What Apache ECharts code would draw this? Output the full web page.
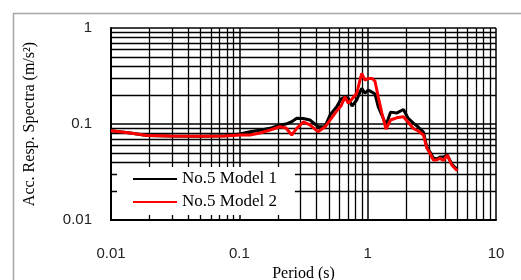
<!DOCTYPE html>
<html>
<head>
<meta charset="utf-8">
<script src="https://cdn.jsdelivr.net/npm/echarts@6/dist/echarts.min.js"></script>
<style>
    body { margin: 0; background: #fff; }
    #chart { width: 521px; height: 280px; }
</style>
</head>
<body>
<div id="chart"></div>
<script>
    // 周期 (s)
    var periods = [0.01, 0.0141, 0.0191, 0.0288, 0.0494, 0.0773, 0.101, 0.121, 0.145, 0.173,
        0.207, 0.231, 0.256, 0.280, 0.315, 0.355, 0.410, 0.465, 0.509, 0.574,
        0.620, 0.665, 0.707, 0.755, 0.822, 0.871, 0.899, 0.953, 1.01, 1.08,
        1.14, 1.21, 1.29, 1.39, 1.51, 1.68, 1.90, 2.06, 2.27, 2.48,
        2.72, 2.89, 3.06, 3.25, 3.45, 3.66, 3.88, 4.18, 4.52, 4.99]
    // No.5 Model 1
    var model1 = [0.0851, 0.0806, 0.0759, 0.0750, 0.0745, 0.0755, 0.0787, 0.0832, 0.0863, 0.0902,
        0.0977, 0.0999, 0.1057, 0.1146, 0.1143, 0.110, 0.0937, 0.0937, 0.124, 0.151,
        0.182, 0.192, 0.185, 0.154, 0.178, 0.215, 0.235, 0.209, 0.226, 0.215,
        0.205, 0.151, 0.124, 0.0977, 0.133, 0.130, 0.1416, 0.1155, 0.102, 0.0931,
        0.0825, 0.0575, 0.051, 0.0442, 0.0432, 0.0453, 0.0453, 0.0475, 0.0383, 0.0336]
    // No.5 Model 2
    var model2 = [0.0851, 0.0806, 0.0759, 0.0750, 0.0745, 0.0750, 0.0768, 0.0768, 0.0806, 0.0863,
        0.0937, 0.0908, 0.0768, 0.0902, 0.105, 0.0977, 0.0832, 0.093, 0.110, 0.137,
        0.154, 0.192, 0.164, 0.182, 0.209, 0.287, 0.336, 0.287, 0.298, 0.298,
        0.280, 0.191, 0.130, 0.0887, 0.110, 0.116, 0.119, 0.105, 0.0898, 0.0845,
        0.0768, 0.0562, 0.0495, 0.0422, 0.0422, 0.044, 0.0415, 0.0475, 0.0374, 0.0326]
    // 对数网格的次网格线
    var minorX = [0.02, 0.03, 0.04, 0.05, 0.06, 0.07, 0.08, 0.09,
        0.2, 0.3, 0.4, 0.5, 0.6, 0.7, 0.8, 0.9,
        2, 3, 4, 5, 6, 7, 8, 9]
    var minorY = [0.02, 0.03, 0.04, 0.05, 0.06, 0.07, 0.08, 0.09,
        0.2, 0.3, 0.4, 0.5, 0.6, 0.7, 0.8, 0.9]

    function pairs(xs, ys) {
        var out = []
        for (var i = 0; i < xs.length; i++) out.push([xs[i], ys[i]])
        return out
    }

    var gridLines = []
    minorX.forEach(function (v) { gridLines.push({ xAxis: v }) })
    minorY.forEach(function (v) { gridLines.push({ yAxis: v }) })

    var serif = '"Liberation Serif", "Times New Roman", serif'
    var sans = '"Liberation Sans", Arial, sans-serif'

    var chart = echarts.init(document.getElementById('chart'))
    chart.setOption({
        animation: false,
        graphic: [{
            type: 'rect',
            shape: { x: 13.5, y: 13.5, width: 520, height: 300 },
            style: { fill: 'none', stroke: '#a6a6a6', lineWidth: 1.5 },
            silent: true
        }],
        grid: { left: 111, right: 25, top: 28, bottom: 60, outerBoundsMode: 'none' },
        legend: {
            orient: 'vertical',
            left: 117,
            top: 167,
            z: 10,
            padding: [2, 18, 3, 16],
            backgroundColor: '#fff',
            itemWidth: 44,
            itemHeight: 2,
            itemGap: 3,
            icon: 'rect',
            data: ['No.5 Model 1', 'No.5 Model 2'],
            textStyle: { fontFamily: serif, fontSize: 17, color: '#000', lineHeight: 20 }
        },
        xAxis: {
            type: 'log',
            logBase: 10,
            min: 0.01,
            max: 10,
            name: 'Period (s)',
            nameLocation: 'middle',
            nameGap: 43,
            nameTextStyle: { fontFamily: serif, fontSize: 16, color: '#000' },
            axisLine: { lineStyle: { color: '#000', width: 2 } },
            axisTick: { show: false },
            axisLabel: { margin: 26, fontFamily: sans, fontSize: 15, color: '#222' },
            splitLine: { show: true, lineStyle: { color: '#000', width: 1.5 } }
        },
        yAxis: {
            type: 'log',
            logBase: 10,
            min: 0.01,
            max: 1,
            name: 'Acc. Resp. Spectra (m/s²)',
            nameLocation: 'middle',
            nameGap: 73,
            nameTextStyle: { fontFamily: serif, fontSize: 16, color: '#000' },
            axisLine: { lineStyle: { color: '#000', width: 2 } },
            axisTick: { show: false },
            axisLabel: { margin: 19, fontFamily: sans, fontSize: 15, color: '#222' },
            splitLine: { show: true, lineStyle: { color: '#000', width: 1.5 } }
        },
        series: [
            {
                name: 'grid',
                type: 'line',
                z: 1,
                data: [],
                markLine: {
                    silent: true,
                    z: 1,
                    symbol: 'none',
                    label: { show: false },
                    lineStyle: { color: '#000', width: 1.3, type: 'solid' },
                    data: gridLines
                }
            },
            {
                name: 'No.5 Model 1',
                type: 'line',
                z: 3,
                symbol: 'none',
                data: pairs(periods, model1),
                itemStyle: { color: '#000' },
                lineStyle: { color: '#000', width: 3 }
            },
            {
                name: 'No.5 Model 2',
                type: 'line',
                z: 3,
                symbol: 'none',
                data: pairs(periods, model2),
                itemStyle: { color: '#f00' },
                lineStyle: { color: '#f00', width: 3 }
            }
        ]
    })
</script>
</body>
</html>
